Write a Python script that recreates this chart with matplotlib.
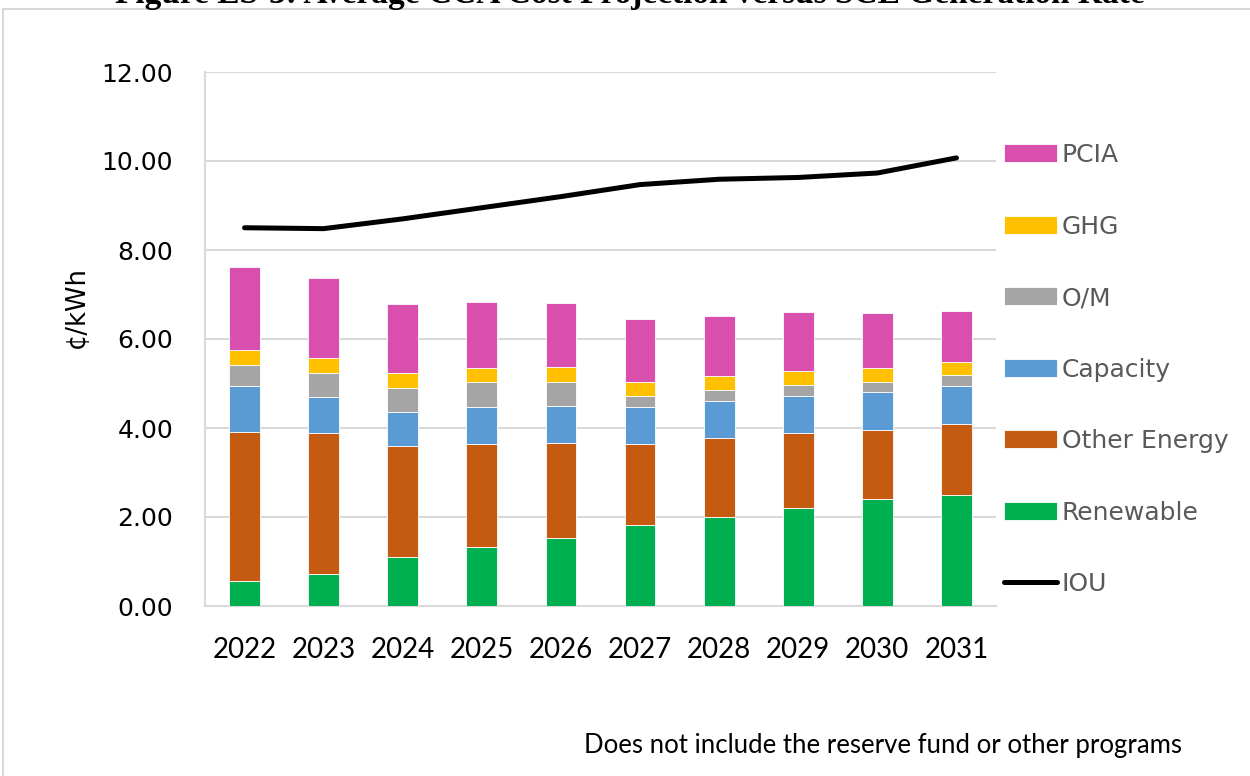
import numpy as np
import matplotlib.pyplot as plt
from matplotlib.lines import Line2D

# -------- DATA (cents/kWh) --------
years = ["2022", "2023", "2024", "2025", "2026", "2027", "2028", "2029", "2030", "2031"]
renewable = [0.57, 0.71, 1.09, 1.32, 1.52, 1.81, 2.00, 2.20, 2.40, 2.49]
other_energy = [3.35, 3.18, 2.51, 2.33, 2.15, 1.84, 1.78, 1.68, 1.55, 1.60]
capacity = [1.03, 0.81, 0.77, 0.83, 0.82, 0.83, 0.83, 0.85, 0.85, 0.85]
om = [0.47, 0.54, 0.54, 0.55, 0.55, 0.23, 0.24, 0.24, 0.24, 0.25]
ghg = [0.33, 0.33, 0.32, 0.32, 0.32, 0.32, 0.32, 0.31, 0.31, 0.29]
pcia = [1.87, 1.81, 1.56, 1.48, 1.46, 1.42, 1.35, 1.32, 1.23, 1.15]
iou = [8.50, 8.48, 8.70, 8.95, 9.20, 9.47, 9.59, 9.63, 9.73, 10.07]

series = [
    ("Renewable", renewable, "#00b050"),
    ("Other Energy", other_energy, "#c55a11"),
    ("Capacity", capacity, "#5b9bd5"),
    ("O/M", om, "#a5a5a5"),
    ("GHG", ghg, "#ffc000"),
    ("PCIA", pcia, "#d94fad"),
]

NARROW = "Lato"
WIDE = "DejaVu Sans"
GRID = "#d9d9d9"

fig = plt.figure(figsize=(12.5, 7.76), dpi=100)
ax = fig.add_axes([205 / 1250, 1 - 606 / 776, 791 / 1250, 534 / 776])

x = np.arange(len(years))
bottom = np.zeros(len(years))
handles = {}
for name, vals, color in series:
    bars = ax.bar(x, vals, width=0.39, bottom=bottom, color=color,
                  edgecolor="white", linewidth=0.6, zorder=3, label=name)
    handles[name] = bars
    bottom += np.array(vals)

line, = ax.plot(x, iou, color="black", lw=3.6, solid_capstyle="round",
                solid_joinstyle="round", zorder=4, label="IOU")

# -------- AXES STYLE --------
ax.set_xlim(-0.5, len(years) - 0.5)
ax.set_ylim(0, 12)
ax.set_yticks(np.arange(0, 12.01, 2))
ax.set_yticklabels([f"{v:.2f}" for v in np.arange(0, 12.01, 2)],
                   family=WIDE, fontsize=18)
ax.set_xticks(x)
ax.set_xticklabels(years, family=NARROW, fontsize=20)
ax.tick_params(axis="both", length=0, colors="black")
ax.tick_params(axis="y", pad=23)
ax.tick_params(axis="x", pad=22)

ax.grid(axis="y", color=GRID, lw=1.5, zorder=0)
for side in ["top", "right"]:
    ax.spines[side].set_visible(False)
for side in ["left", "bottom"]:
    ax.spines[side].set_color(GRID)
    ax.spines[side].set_linewidth(1.5)

fig.text(77 / 1250, 1 - 307 / 776, "¢/kWh", rotation=90, ha="center",
         va="center", fontsize=18.5, family=WIDE)

# -------- LEGEND --------
order = ["PCIA", "GHG", "O/M", "Capacity", "Other Energy", "Renewable"]
leg_handles = [handles[n] for n in order] + [
    Line2D([0], [0], color="black", lw=3.6, solid_capstyle="round")]
leg = fig.legend(leg_handles, order + ["IOU"], loc="upper left",
                 bbox_to_anchor=(1004 / 1250, 1 - 143 / 776), frameon=False,
                 prop={"family": WIDE, "size": 18}, handlelength=2.1,
                 handleheight=0.72, handletextpad=0.2, labelspacing=1.9,
                 borderpad=0, borderaxespad=0)
for t in leg.get_texts():
    t.set_color("#595959")

# -------- TITLE (cut at the top edge) & NOTE --------
fig.text(630 / 1250, 1 - 3 / 776,
         "Figure ES-3: Average CCA Cost Projection versus SCE Generation Rate",
         ha="center", va="baseline", fontsize=24, fontweight="bold",
         family="Liberation Serif")
fig.text(1182 / 1250, 1 - 745 / 776,
         "Does not include the reserve fund or other programs",
         ha="right", va="center", fontsize=18.5, family=NARROW)

# outer frame
fig.add_artist(Line2D([3 / 1250, 3 / 1250], [0, 1 - 9 / 776], color=GRID,
                      lw=1.5, transform=fig.transFigure))
fig.add_artist(Line2D([3 / 1250, 1], [1 - 9 / 776, 1 - 9 / 776], color=GRID,
                      lw=1.5, transform=fig.transFigure))

fig.savefig("out.png", dpi=100)
